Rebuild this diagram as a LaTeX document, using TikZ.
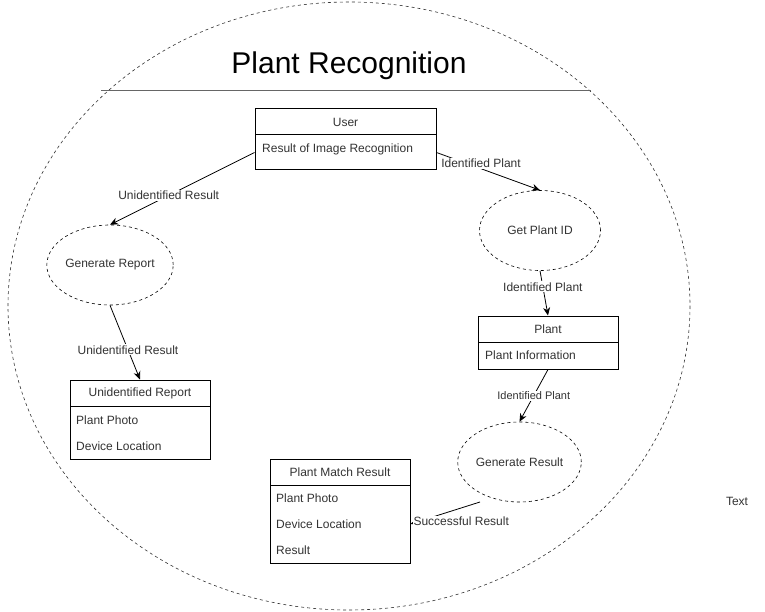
\documentclass[tikz,border=0pt]{standalone}
\usepackage{fontspec}
\setmainfont{Liberation Sans}
\usetikzlibrary{shapes.geometric,arrows.meta}
\tikzset{
  fs/.style={font=\fontsize{12}{14}\selectfont},
  hdr/.style={draw=black, line width=1pt, fill=white, minimum width=#1, minimum height=26, inner sep=0, fs, text=black!80},
  bodybox/.style={draw=black, line width=1pt, fill=white, minimum width=#1, inner sep=0},
  item/.style={anchor=west, inner sep=0, fs, text=black!80},
  proc/.style={draw=black, ellipse, dash pattern=on 3pt off 3pt, line width=0.6pt, minimum width=121, minimum height=80, inner sep=0, fs, text=black!80},
  arr/.style={-{Stealth[length=8pt,width=7pt,inset=2.5pt]}, line width=0.8pt, black},
  lbl/.style={fill=white, inner sep=1pt, fs, text=black!80},
}
\begin{document}
\begin{tikzpicture}[x=1pt,y=-1pt]
\useasboundingbox[fill=white] (0,0) rectangle (765,612);
% outer boundary
\draw[dash pattern=on 3pt off 3pt, line width=0.6pt, black!80] (349,306) ellipse [x radius=341, y radius=304];
\node[font=\fontsize{30}{34}\selectfont] (title) at (349,65.5) {Plant Recognition};
\coordinate (hl) at (101,91);
\coordinate (hr) at (591,91);
\draw[line width=1pt, black!60] (hl) -- (hr);

% User
\node[hdr=181] (userh) at (345.5,122) {User};
\node[bodybox=181, minimum height=35] (userb) at (345.5,152.5) {};
\node[item] (useri) at (262,149.5) {Result of Image Recognition};

% Plant
\node[hdr=140] (planth) at (548,329) {Plant};
\node[bodybox=140, minimum height=27] (plantb) at (548,355.5) {};
\node[item] (planti) at (485,355.5) {Plant Information};

% Unidentified Report
\node[hdr=140] (urh) at (140,393) {Unidentified Report};
\node[bodybox=140, minimum height=53] (urb) at (140,432.5) {};
\node[item] (uri1) at (76,420.5) {Plant Photo};
\node[item] (uri2) at (76,446.5) {Device Location};

% Plant Match Result
\node[hdr=140] (pmrh) at (340,472) {Plant Match Result};
\node[bodybox=140, minimum height=78] (pmrb) at (340,524) {};
\node[item] (pmri1) at (276,498.5) {Plant Photo};
\node[item] (pmri2) at (276,524.5) {Device Location};
\node[item] (pmri3) at (276,550.5) {Result};

% processes
\node[proc] (gpid) at (540,230.5) {Get Plant ID};
\node[proc] (grep) at (110,265) {Generate Report};
\node[proc] (gres) at (519.5,462) {Generate Result};

\node[fs, text=black!80] (txt) at (737,501.5) {Text};

% connectors
\draw[arr] (userb.west) -- (grep.north) node[lbl, pos=0.594] {Unidentified Result};
\draw[arr] (userb.east) -- (gpid.north) node[lbl, pos=0.43, yshift=5] {Identified Plant};
\draw[arr] (gpid.south) -- (planth.north) node[lbl, pos=0.36] {Identified Plant};
\draw[arr] (plantb.south) -- (gres.north) node[lbl, pos=0.5, font=\fontsize{11}{13}\selectfont] {Identified Plant};
\coordinate (e5s) at (480,502);
\draw[arr] (e5s) -- (pmrb.east) node[lbl, pos=0.27, yshift=-13.5] {Successful Result};
\draw[arr] (grep.south) -- (urh.north) node[lbl, pos=0.6] {Unidentified Result};
\end{tikzpicture}
\end{document}
